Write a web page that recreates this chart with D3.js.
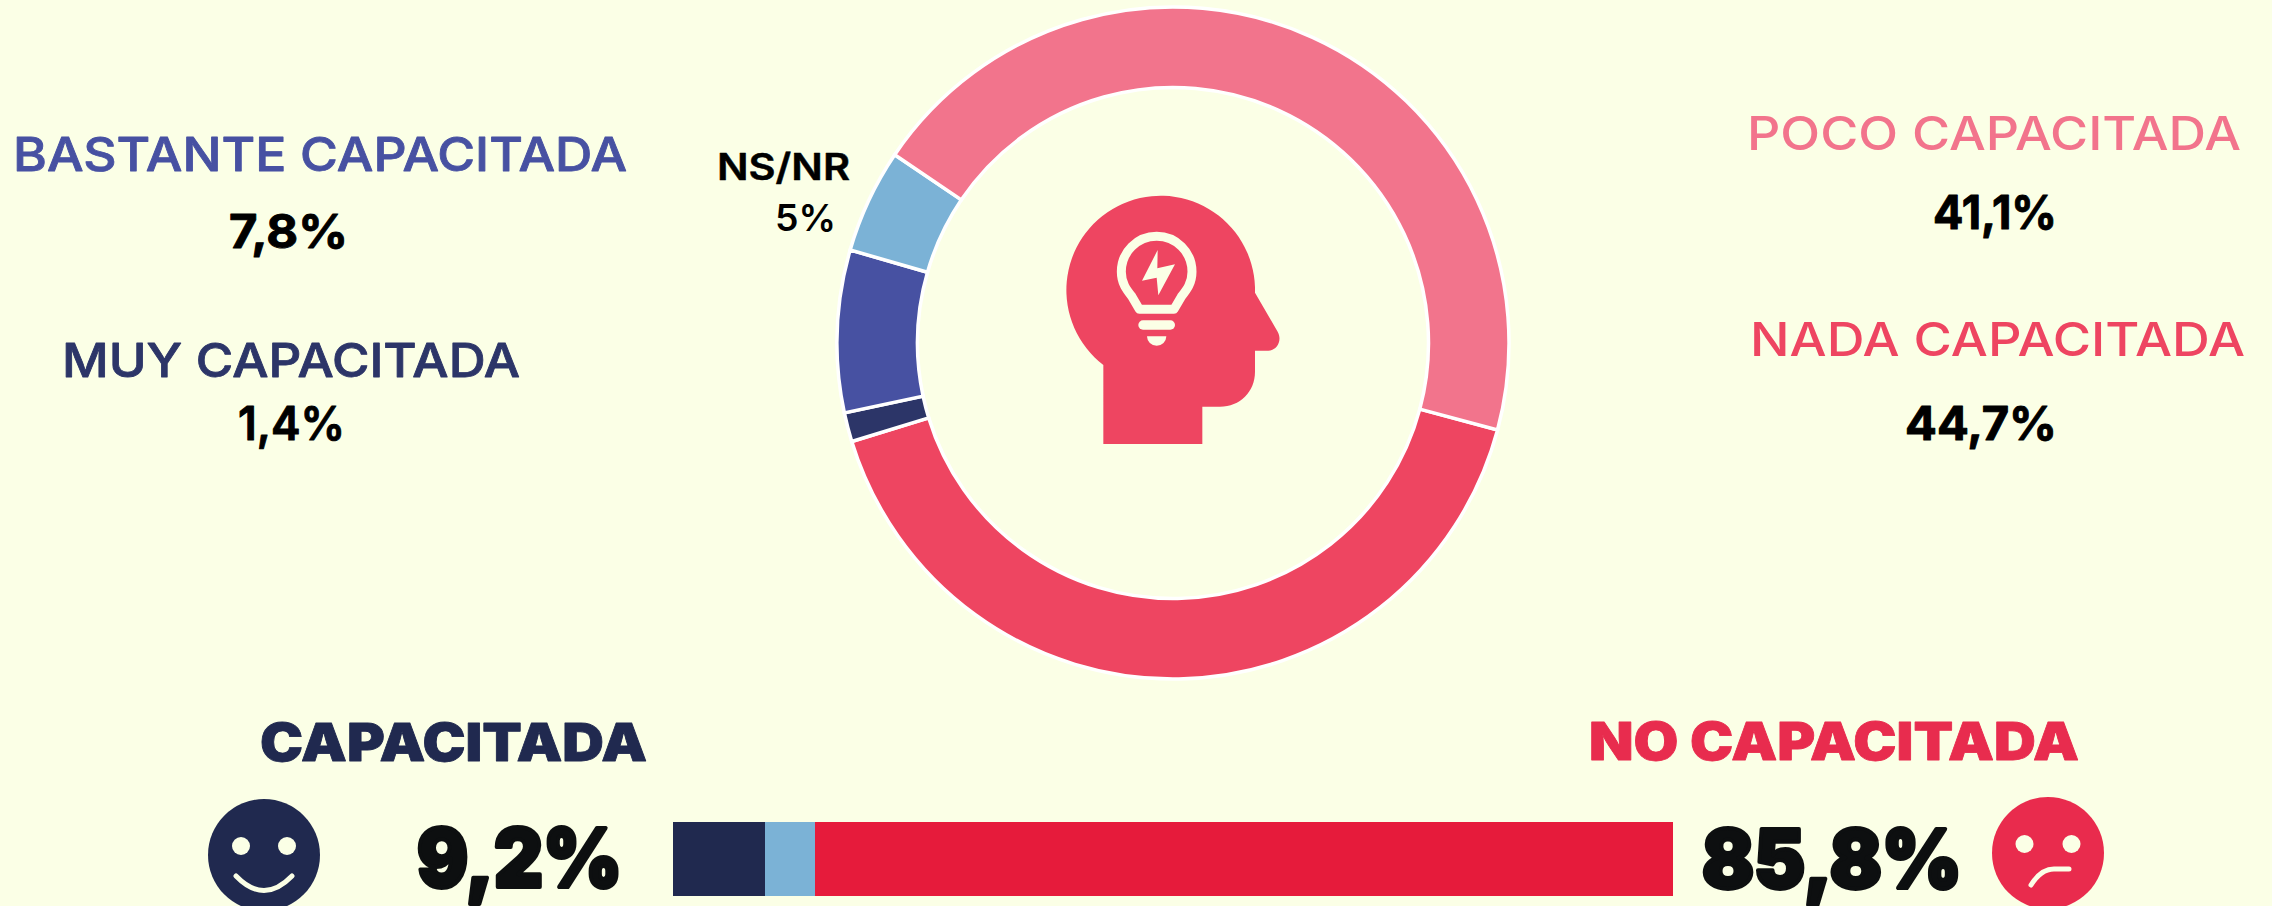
<!DOCTYPE html>
<html lang="es">
<head>
<meta charset="utf-8">
<title>Capacitación</title>
<script src="https://cdn.jsdelivr.net/npm/d3@7/dist/d3.min.js"></script>
<style>
  html, body { margin: 0; padding: 0; background: #fbffe6; overflow: hidden; }
  svg { display: block; }
  text { font-family: Inter, "Open Sans", sans-serif; }
</style>
</head>
<body>
<svg id="chart" width="2272" height="906"></svg>
<script>
// ---- Data ----
// Ring order, clockwise. In the reference the longer arc (44,7) carries the
// light pink and the shorter (41,1) the stronger red, the reverse of the label colours.
const ringCategories = ["POCO CAPACITADA", "MUY CAPACITADA", "BASTANTE CAPACITADA", "NS/NR", "NADA CAPACITADA"];
const ringValues = [41.1, 1.4, 7.8, 5, 44.7];
const ringColors = ["#ee4561", "#2c3568", "#4751a2", "#7bb2d6", "#f2748c"];

const summaryCategories = ["CAPACITADA", "NS/NR", "NO CAPACITADA"];
const summaryValues = [9.2, 5, 85.8];
const summaryColors = ["#20294f", "#7bb2d6", "#e61b3b"];

const labelTexts = ["BASTANTE CAPACITADA", "7,8%", "MUY CAPACITADA", "1,4%", "POCO CAPACITADA", "41,1%", "NADA CAPACITADA", "44,7%", "NS/NR", "5%"];
const summaryTexts = ["CAPACITADA", "9,2%", "NO CAPACITADA", "85,8%"];

// ---- Layout ----
const BG = "#fbffe6", CREAM = "#fbffe6";
const cx = 1173, cy = 343, rOuter = 336, rInner = 255.5;
const ringStart = 105 * Math.PI / 180;

// x0, x1, baseline, size, weight, colour, extra stroke, for each entry of labelTexts
const labelLayout = [
  [13, 627, 171, 47, 500, "#4751a2", 0.8],
  [229, 348, 248, 47, 700, "#000000", 1],
  [62, 520, 377, 47, 500, "#2c3568", 0.8],
  [238, 345, 440, 47, 600, "#000000", 1],
  [1747, 2241, 150, 47, 500, "#f2748c", 0],
  [1933, 2057, 229, 47, 700, "#000000", 1],
  [1750, 2245, 356, 47, 500, "#ee4561", 0],
  [1905, 2057, 440, 47, 700, "#000000", 1],
  [717, 850, 180, 37, 600, "#000000", 0.5],
  [775, 836, 231, 37, 600, "#000000", 0]
];
const summaryLayout = [
  [260, 647, 761, 52, 900, "#20294f", 0.8],
  [417, 622, 887, 81, 900, "#0d0f10", 4],
  [1589, 2079, 760, 52, 900, "#e82c4e", 0.8],
  [1702, 1962, 888, 81, 900, "#0d0f10", 4]
];

const svg = d3.select("#chart");
svg.append("rect").attr("width", 2272).attr("height", 906).attr("fill", BG);

// ---- Ring ----
const pie = d3.pie().sort(null).value(d => d)
  .startAngle(ringStart).endAngle(ringStart + 2 * Math.PI);
const arc = d3.arc().innerRadius(rInner).outerRadius(rOuter);
svg.append("g").attr("transform", `translate(${cx},${cy})`)
  .selectAll("path").data(pie(ringValues)).join("path")
  .attr("d", arc)
  .attr("fill", (d, i) => ringColors[i])
  .attr("stroke", "#ffffff").attr("stroke-width", 3.5).attr("stroke-linejoin", "miter");

// ---- Stacked bar ----
const xBar = d3.scaleLinear().domain([0, 100]).range([673, 1673]);
const stack = d3.cumsum(summaryValues);
svg.append("g").selectAll("rect").data(summaryValues).join("rect")
  .attr("x", (d, i) => xBar(stack[i] - d))
  .attr("width", d => xBar(d) - xBar(0))
  .attr("y", 822).attr("height", 74)
  .attr("fill", (d, i) => summaryColors[i]);

// ---- Text ----
function drawTexts(texts, layout) {
  svg.append("g").selectAll("text").data(texts).join("text")
    .attr("x", (d, i) => layout[i][0])
    .attr("y", (d, i) => layout[i][2])
    .attr("textLength", (d, i) => layout[i][1] - layout[i][0])
    .attr("lengthAdjust", "spacingAndGlyphs")
    .attr("font-size", (d, i) => layout[i][3])
    .attr("font-weight", (d, i) => layout[i][4])
    .attr("fill", (d, i) => layout[i][5])
    .attr("stroke", (d, i) => layout[i][5])
    .attr("stroke-width", (d, i) => layout[i][6])
    .attr("stroke-linejoin", "round")
    .text(d => d);
}
drawTexts(labelTexts, labelLayout);
drawTexts(summaryTexts, summaryLayout);

// ---- Head icon ----
const icon = svg.append("g").attr("transform", "translate(1000,150) scale(0.33333)");
icon.append("path").attr("fill", "#ee4561")
  .attr("d", "M310,882 L607,882 L607,770 L660,770 C720,770 765,725 765,665 L765,602 L805,602 C830,602 848,572 833,545 L765,428 L765,412 A283,283 0 1 0 310,645 Z");
icon.append("path").attr("fill", "none").attr("stroke", CREAM).attr("stroke-width", 27).attr("stroke-linejoin", "round")
  .attr("d", "M418,478 L396,440 C380,420 364,400 364,365 A106,106 0 0 1 576,365 C576,400 560,420 544,440 L522,478 Z");
icon.append("rect").attr("x", 415).attr("y", 511).attr("width", 110).attr("height", 28).attr("rx", 14).attr("fill", CREAM);
icon.append("path").attr("fill", CREAM).attr("d", "M441,559 L499,559 A29,28 0 0 1 441,559 Z");
icon.append("path").attr("fill", CREAM).attr("d", "M473,300 L426,392 L470,383 L475,436 L525,343 L472,355 Z");

// ---- Faces ----
const happy = svg.append("g").attr("transform", "translate(264,855)");
happy.append("circle").attr("r", 56).attr("fill", "#20294f");
happy.selectAll("ellipse").data([-23, 23]).join("ellipse")
  .attr("cx", d => d).attr("cy", -9).attr("rx", 9).attr("ry", 9).attr("fill", CREAM);
happy.append("path").attr("fill", "none").attr("stroke", CREAM).attr("stroke-width", 5).attr("stroke-linecap", "round")
  .attr("d", "M-28,21 Q0,50 28,21");

const sad = svg.append("g").attr("transform", "translate(2048,853)");
sad.append("circle").attr("r", 56).attr("fill", "#e92b4d");
sad.selectAll("ellipse").data([-23.5, 23.5]).join("ellipse")
  .attr("cx", d => d).attr("cy", -9).attr("rx", 9).attr("ry", 9).attr("fill", CREAM);
sad.append("path").attr("fill", "none").attr("stroke", CREAM).attr("stroke-width", 5).attr("stroke-linecap", "round")
  .attr("d", "M-17,32 Q-7,16 6,16 L21,16");
</script>
</body>
</html>
